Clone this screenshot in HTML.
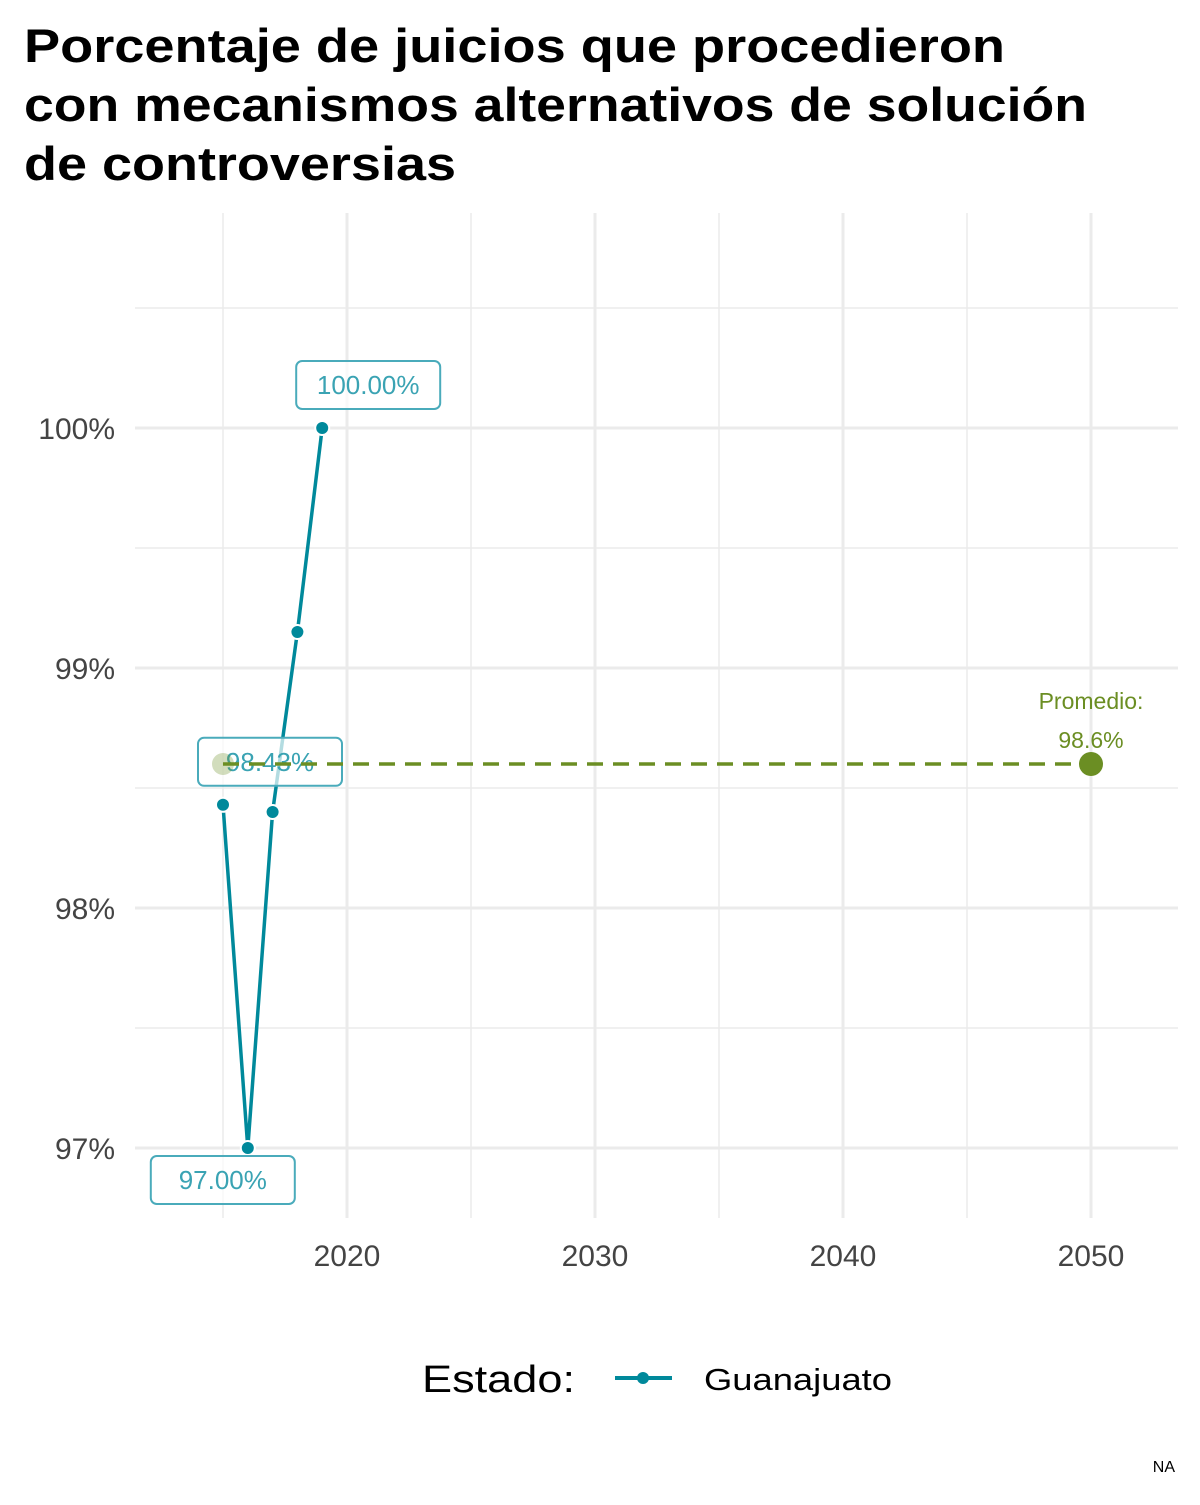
<!DOCTYPE html>
<html><head><meta charset="utf-8"><style>
body{margin:0;background:#fff;}
svg text{font-family:"Liberation Sans","DejaVu Sans",sans-serif;}
</style></head><body>
<svg id="chart" width="1200" height="1500" viewBox="0 0 1200 1500" xmlns="http://www.w3.org/2000/svg">
<rect width="1200" height="1500" fill="#fff"/>
<g font-weight="bold" font-size="47" fill="#000">
<text x="24" y="62" textLength="981" lengthAdjust="spacingAndGlyphs">Porcentaje de juicios que procedieron</text>
<text x="24" y="121" textLength="1063" lengthAdjust="spacingAndGlyphs">con mecanismos alternativos de solución</text>
<text x="24" y="180" textLength="432" lengthAdjust="spacingAndGlyphs">de controversias</text>
</g>
<g id="grid"></g>
<g id="axes"></g>
<g id="marks"></g>
<g>
<text x="422" y="1392" font-size="38" fill="#000" textLength="153" lengthAdjust="spacingAndGlyphs">Estado:</text>
<g>
<line x1="615" y1="1378" x2="672" y2="1378" stroke="#00899b" stroke-width="4"/>
<circle cx="643" cy="1378" r="6" fill="#00899b"/>
<text x="704" y="1390" font-size="31" fill="#000" textLength="188" lengthAdjust="spacingAndGlyphs">Guanajuato</text>
</g>
</g>
<text x="1175" y="1472" font-size="16" text-anchor="end" fill="#000">NA</text>
</svg>
<script>
const years = [2015, 2016, 2017, 2018, 2019];
const values = [98.43, 97.00, 98.40, 99.15, 100.00];
const labelYears = [2015, 2016, 2019];
const labelValues = [98.43, 97.00, 100.00];
const avgValue = 98.6;
const avgStartYear = 2015;
const avgEndYear = 2050;
const xTicks = [2020, 2030, 2040, 2050];
const xMinor = [2015, 2025, 2035, 2045];
const yTicks = [97, 98, 99, 100];
const yMinor = [97.5, 98.5, 99.5, 100.5];

const X = y => 347 + (y - 2020) * 24.8;
const Y = v => 428 + (100 - v) * 240;
const NS = 'http://www.w3.org/2000/svg';
function mk(tag, attrs, parent){const e=document.createElementNS(NS,tag);for(const k in attrs)e.setAttribute(k,attrs[k]);parent.appendChild(e);return e;}
const grid=document.getElementById('grid'), axes=document.getElementById('axes'), marks=document.getElementById('marks');
const L=135,R=1178,T=213,B=1218;
yMinor.forEach(v=>{const e=mk('line',{x1:L,x2:R,y1:Y(v),y2:Y(v),stroke:'#ebebeb','stroke-width':1.5},grid);

});
xMinor.forEach(v=>{const e=mk('line',{x1:X(v),x2:X(v),y1:T,y2:B,stroke:'#ebebeb','stroke-width':1.5},grid);

});
yTicks.forEach(v=>{const e=mk('line',{x1:L,x2:R,y1:Y(v),y2:Y(v),stroke:'#ebebeb','stroke-width':3},grid);


const t=mk('text',{x:115,y:Y(v)+11,'text-anchor':'end','font-size':30,fill:'#444'},axes);t.textContent=v+'%';

});
xTicks.forEach(v=>{const e=mk('line',{x1:X(v),x2:X(v),y1:T,y2:B,stroke:'#ebebeb','stroke-width':3},grid);


const t=mk('text',{x:X(v),y:1266,'text-anchor':'middle','font-size':30,fill:'#444'},axes);t.textContent=v;

});
// series
const pl=mk('polyline',{points:years.map((y,i)=>X(y)+','+Y(values[i])).join(' '),fill:'none',stroke:'#00899b','stroke-width':3.5,'stroke-linejoin':'round'},marks);


years.forEach((y,i)=>{const c=mk('circle',{cx:X(y),cy:Y(values[i]),r:7,fill:'#00899b',stroke:'#fff','stroke-width':2},marks);

});
// labels
labelYears.forEach((y,i)=>{const v=labelValues[i];
const isMin=v===Math.min(...values);
const cx=X(y)+(isMin?-25:(i===0?47:46));
const cy=isMin?Y(v)+32:Y(v)-43;
const g=mk('g',{},marks);


mk('rect',{x:cx-72,y:cy-24,width:144,height:48,rx:6,fill:'rgba(255,255,255,0.7)',stroke:'#4aabbb','stroke-width':2},g);
const t=mk('text',{x:cx,y:cy+9,'text-anchor':'middle','font-size':26,fill:'#3aa3b3'},g);t.textContent=v.toFixed(2)+'%';});
// average (drawn on top)
const ap=mk('circle',{cx:X(avgStartYear),cy:Y(avgValue),r:11,fill:'#6b8e23','fill-opacity':0.3},marks);


const al=mk('line',{x1:X(avgStartYear),x2:X(avgEndYear),y1:Y(avgValue),y2:Y(avgValue),stroke:'#6b8e23','stroke-width':3.5,'stroke-dasharray':'16,10'},marks);


const ae=mk('circle',{cx:X(avgEndYear),cy:Y(avgValue),r:12,fill:'#6b8e23'},marks);


const at1=mk('text',{x:X(avgEndYear),y:Y(avgValue)-55,'text-anchor':'middle','font-size':23,fill:'#6b8e23'},marks);at1.textContent='Promedio:';


const at2=mk('text',{x:X(avgEndYear),y:Y(avgValue)-16,'text-anchor':'middle','font-size':23,fill:'#6b8e23'},marks);at2.textContent=avgValue+'%';


</script>
</body></html>
